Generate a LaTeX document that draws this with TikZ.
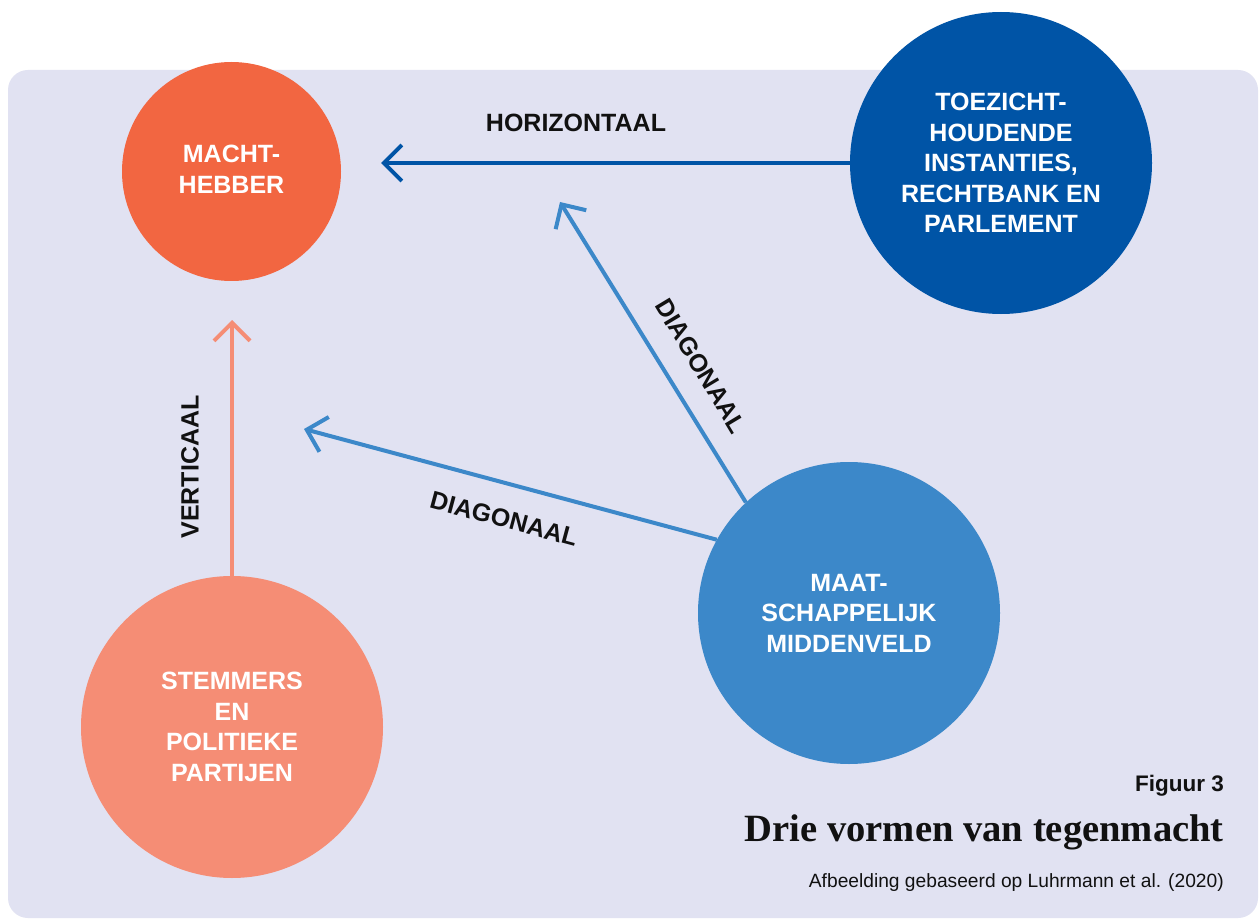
\documentclass[tikz,border=0pt]{standalone}
\usepackage{fontspec}
\setmainfont{Liberation Sans}
\newfontfamily\titlefont{Liberation Serif}
\usetikzlibrary{arrows.meta}
\definecolor{bgc}{HTML}{E1E2F2}
\definecolor{machtc}{HTML}{F26641}
\definecolor{toezc}{HTML}{0054A6}
\definecolor{maatc}{HTML}{3C88C9}
\definecolor{stemc}{HTML}{F58D75}
\definecolor{inkc}{HTML}{111111}
\begin{document}
\begin{tikzpicture}[x=1pt,y=-1pt,
  circ/.style={circle,inner sep=0pt,minimum size=#1,text=white,align=center,
    font=\bfseries\fontsize{25}{30.5}\selectfont},
  conn/.style={line width=4pt,-{Straight Barb[length=18pt,width=36pt,line width=4pt]}},
  lab/.style={font=\bfseries\fontsize{25}{30}\selectfont,text=inkc,inner sep=0pt}]
\useasboundingbox (0,0) rectangle (1259,920);
\fill[white] (0,0) rectangle (1259,920);
\fill[bgc,rounded corners=20pt] (8,70) rectangle (1258,918);

\node[circ=219pt,fill=machtc] (macht) at (231.5,171.5) {\raisebox{4pt}{\begin{tabular}{@{}c@{}}MACHT-\\[0.5pt]HEBBER\end{tabular}}};
\node[circ=302pt,fill=toezc] (toez) at (1001,163) {TOEZICHT-\\HOUDENDE\\INSTANTIES,\\RECHTBANK EN\\PARLEMENT};
\node[circ=302pt,fill=maatc] (maat) at (849,613) {MAAT-\\SCHAPPELIJK\\MIDDENVELD};
\node[circ=302pt,fill=stemc] (stem) at (232,727) {STEMMERS\\EN\\POLITIEKE\\PARTIJEN};

\coordinate (tipH) at (381,163);
\coordinate (tipD1) at (560,202);
\coordinate (tipD2) at (304,429);
\coordinate (tipV) at (232,320);

\draw[conn,toezc] (toez.west) -- (tipH);
\draw[conn,maatc] (maat.133) -- (tipD1);
\draw[conn,maatc] (maat.151) -- (tipD2);
\draw[conn,stemc] (stem.north) -- (tipV);

\node[lab] (lh) at (576,123) {HORIZONTAAL};
\node[lab,rotate=-59] (ld1) at (701,366) {DIAGONAAL};
\node[lab,rotate=-15] (ld2) at (504,519) {DIAGONAAL};
\node[lab,rotate=90] (lv) at (190,467) {VERTICAAL};

\node[anchor=base east,inner sep=0pt,text=inkc,font=\bfseries\fontsize{22.5}{26}\selectfont] (fig) at (1224,791) {Figuur 3};
\node[anchor=base east,inner sep=0pt,text=inkc,font=\titlefont\bfseries\fontsize{38.6}{44}\selectfont] (title) at (1224,841) {Drie vormen van tegenmacht};
\node[anchor=base east,inner sep=0pt,text=inkc,font=\fontsize{19.2}{22}\selectfont] (src) at (1224,887) {Afbeelding gebaseerd op Luhrmann et al. (2020)};
\end{tikzpicture}
\end{document}
